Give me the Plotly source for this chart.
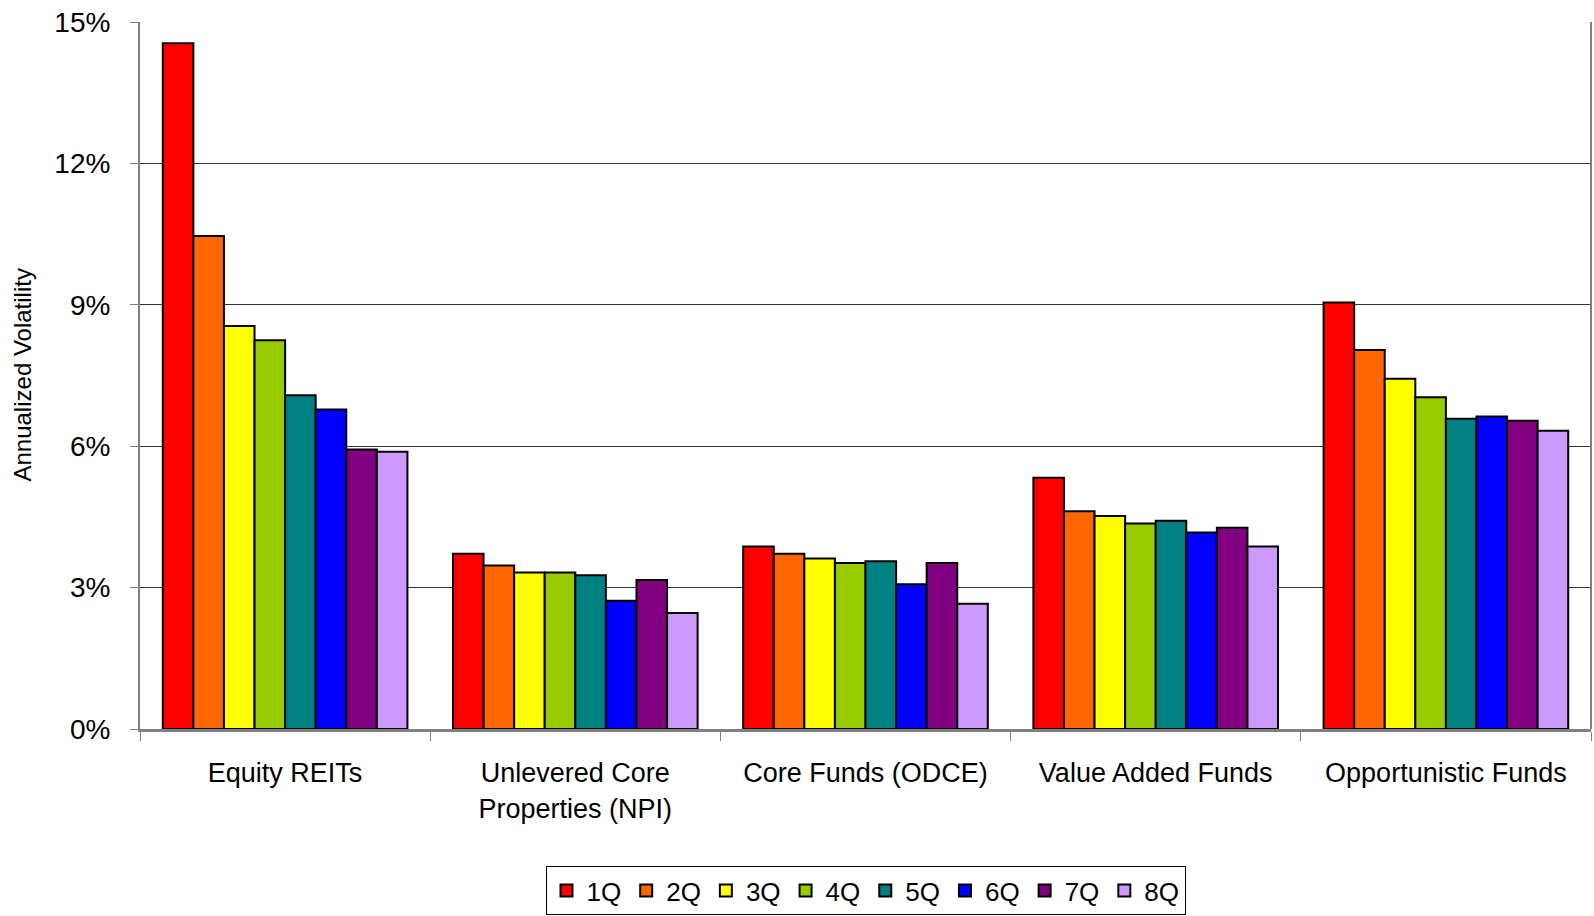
import plotly.graph_objects as go

categories = ["Equity REITs", "Unlevered Core<br>Properties (NPI)", "Core Funds (ODCE)",
              "Value Added Funds", "Opportunistic Funds"]
series_names = ["1Q", "2Q", "3Q", "4Q", "5Q", "6Q", "7Q", "8Q"]
q1 = [14.55, 3.72, 3.87, 5.33, 9.05]
q2 = [10.46, 3.47, 3.72, 4.62, 8.04]
q3 = [8.55, 3.32, 3.62, 4.52, 7.43]
q4 = [8.25, 3.32, 3.52, 4.36, 7.04]
q5 = [7.08, 3.26, 3.56, 4.42, 6.58]
q6 = [6.78, 2.72, 3.07, 4.17, 6.63]
q7 = [5.93, 3.16, 3.52, 4.27, 6.54]
q8 = [5.88, 2.46, 2.66, 3.87, 6.33]
series_values = [q1, q2, q3, q4, q5, q6, q7, q8]
colors = ["#FF0000", "#FF6600", "#FFFF00", "#99CC00", "#008080", "#0000FF", "#800080", "#CC99FF"]
y_ticks = [0, 3, 6, 9, 12, 15]
y_tick_labels = ["0%", "3%", "6%", "9%", "12%", "15%"]

FONT = "Liberation Sans, Arial, sans-serif"

fig = go.Figure()
for name, vals, col in zip(series_names, series_values, colors):
    fig.add_trace(go.Bar(
        name=name, x=categories, y=vals,
        marker=dict(color=col, line=dict(color="#000000", width=2)),
    ))

fig.update_layout(
    width=1594, height=916,
    margin=dict(l=140, r=3, t=22, b=187, autoexpand=False),
    paper_bgcolor="white", plot_bgcolor="white",
    barmode="group", bargap=0.157, bargroupgap=0,
    font=dict(family=FONT, size=27, color="#000000"),
    showlegend=True,
    legend=dict(
        orientation="h", x=0.5, xanchor="center",
        yref="container", y=0.0546, yanchor="top",
        bgcolor="white", bordercolor="#000000", borderwidth=1,
        font=dict(family=FONT, size=26, color="#000000"),
        itemwidth=30, traceorder="normal",
    ),
    xaxis=dict(
        type="category", tickson="boundaries", ticks="outside", ticklen=9,
        tickcolor="#808080", tickwidth=1,
        showline=True, linecolor="#808080", linewidth=3, mirror=False,
        showgrid=False, ticklabelstandoff=18, automargin=False,
        tickfont=dict(family=FONT, size=27, color="#000000"),
    ),
    yaxis=dict(
        range=[0, 15], tickmode="array", tickvals=y_ticks, ticktext=y_tick_labels,
        ticks="outside", ticklen=8, tickcolor="#808080",
        showline=True, linecolor="#808080", linewidth=2,
        showgrid=True, gridcolor="#333333", gridwidth=1,
        zeroline=False, ticklabelstandoff=14, automargin=False,
        tickfont=dict(family=FONT, size=28, color="#000000"),
    ),
    annotations=[dict(
        text="Annualized Volatility", textangle=-90,
        xref="paper", yref="paper", x=-0.0813, y=0.5,
        xanchor="center", yanchor="middle", showarrow=False,
        font=dict(family=FONT, size=24, color="#000000"),
    )],
    shapes=[dict(type="line", xref="paper", yref="paper", x0=1, x1=1, y0=0, y1=1,
                 line=dict(color="#808080", width=2))],
)

fig.write_html("out.html")
